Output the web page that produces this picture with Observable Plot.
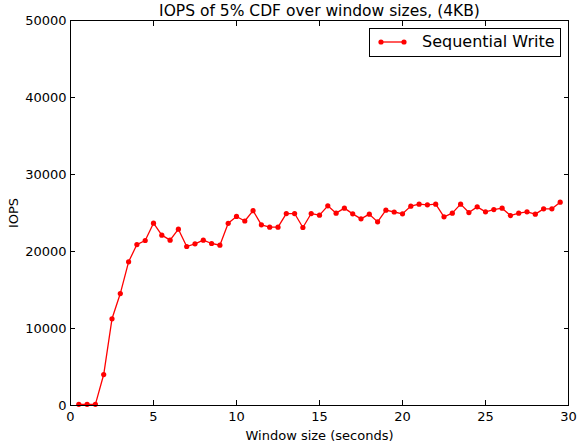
<!DOCTYPE html>
<html>
<head>
<meta charset="utf-8">
<script src="https://cdn.jsdelivr.net/npm/d3@7"></script>
<script src="https://cdn.jsdelivr.net/npm/@observablehq/plot@0.6"></script>
<style>
  html, body { margin: 0; padding: 0; background: #fff; }
  #wrap { position: relative; width: 577px; height: 443px; font-family: "DejaVu Sans", sans-serif; }
  #legend { position: absolute; left: 369px; top: 28px; width: 190px; height: 27px; border: 1px solid #000; background: #fff; box-sizing: content-box; }
  #legend svg { position: absolute; left: 0; top: 0; }
  #legend span { position: absolute; left: 52px; top: 3px; font-size: 16px; line-height: 20px; color: #000; white-space: nowrap; }
</style>
</head>
<body>
<div id="wrap"></div>
<script>
const title = "IOPS of 5% CDF over window sizes, (4KB)";
const xLabel = "Window size (seconds)";
const yLabel = "IOPS";
const seriesName = "Sequential Write";
const windowSizes = [0.5,1,1.5,2,2.5,3,3.5,4,4.5,5,5.5,6,6.5,7,7.5,8,8.5,9,9.5,10,10.5,11,11.5,12,12.5,13,13.5,14,14.5,15,15.5,16,16.5,17,17.5,18,18.5,19,19.5,20,20.5,21,21.5,22,22.5,23,23.5,24,24.5,25,25.5,26,26.5,27,27.5,28,28.5,29,29.5];
const iops = [150,150,150,4020,11260,14540,18660,20900,21430,23680,22120,21470,22900,20650,21000,21470,21040,20820,23660,24550,23960,25300,23460,23160,23160,24930,24930,23120,24930,24720,25930,24980,25630,24890,24240,24850,23850,25370,25130,24890,25890,26150,26060,26150,24500,24980,26150,25060,25800,25150,25450,25630,24670,24980,25150,24850,25540,25540,26410];
const xTicks = [0,5,10,15,20,25,30];
const yTicks = [0,10000,20000,30000,40000,50000];

const data = windowSizes.map((x, i) => ({x, y: iops[i]}));

const chart = Plot.plot({
  width: 577,
  height: 443,
  marginLeft: 70,
  marginRight: 9,
  marginTop: 20,
  marginBottom: 38,
  style: {fontFamily: "DejaVu Sans, sans-serif", fontSize: "13px", color: "#000", background: "#fff"},
  x: {domain: [0, 30]},
  y: {domain: [0, 50000]},
  marks: [
    Plot.line(data, {x: "x", y: "y", stroke: "#ff0000", strokeWidth: 1.3}),
    Plot.dot(data, {x: "x", y: "y", r: 2.6, fill: "#ff0000", stroke: "none"}),
    Plot.frame({stroke: "#000", strokeWidth: 1}),
    Plot.axisX(xTicks, {anchor: "bottom", tickSize: -5, tickPadding: 11, tickFormat: d => String(d), label: xLabel, labelAnchor: "center", labelArrow: "none", labelOffset: 34, fontSize: 13}),
    Plot.axisX(xTicks, {anchor: "top", tickSize: -5, tickFormat: () => "", label: null}),
    Plot.axisY(yTicks, {anchor: "left", tickSize: -5, tickPadding: 9, tickFormat: d => String(d), label: yLabel, labelAnchor: "center", labelArrow: "none", labelOffset: 62, fontSize: 13}),
    Plot.axisY(yTicks, {anchor: "right", tickSize: -5, tickFormat: () => "", label: null}),
    Plot.text([title], {frameAnchor: "top", dy: -5, lineAnchor: "bottom", text: d => d, fontSize: 15.5, fill: "#000"})
  ]
});

const wrap = document.getElementById("wrap");
wrap.appendChild(chart);

const legend = document.createElement("div");
legend.id = "legend";
legend.innerHTML = `<svg width="50" height="27"><line x1="11" y1="13" x2="34" y2="13" stroke="#ff0000" stroke-width="1.3"/><circle cx="11" cy="13" r="2.6" fill="#ff0000"/><circle cx="34" cy="13" r="2.6" fill="#ff0000"/></svg><span>${seriesName}</span>`;
wrap.appendChild(legend);
</script>
</body>
</html>
